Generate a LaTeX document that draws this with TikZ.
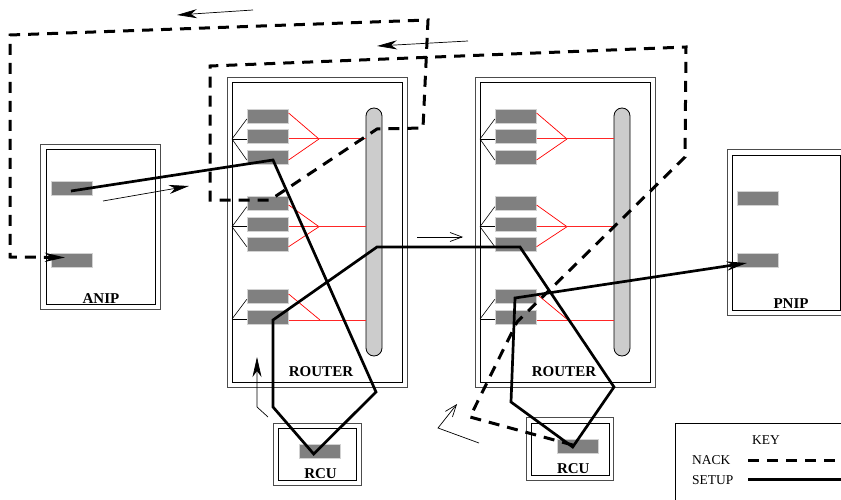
\documentclass[tikz,border=0pt]{standalone}
\usepackage{fontspec}
\setmainfont{Liberation Serif}
\usetikzlibrary{arrows.meta,calc}
\definecolor{portfill}{HTML}{808080}
\definecolor{portedge}{HTML}{D2D2D2}
\definecolor{busfill}{HTML}{CCCCCC}
\tikzset{
  port/.style={rectangle, fill=portfill, draw=portedge, line width=0.8pt,
    minimum width=41pt, minimum height=14pt, inner sep=0pt},
  outerframe/.style={draw=black!70, line width=0.9pt},
  innerframe/.style={draw=black, line width=0.8pt},
  fanline/.style={draw=black, line width=0.6pt},
  redline/.style={draw=red, line width=0.7pt},
  redbus/.style={draw=red!85!white, line width=1pt},
  bus/.style={rectangle, fill=busfill, draw=black, line width=0.8pt,
    rounded corners=8pt, minimum width=16pt, minimum height=248pt, inner sep=0pt},
  setup/.style={draw=black, line width=2.7pt},
  nack/.style={draw=black, line width=3pt, dash pattern=on 11pt off 8pt},
  hint/.style={draw=black, line width=0.7pt},
  darthead/.style={-{Stealth[length=20pt,width=9pt,inset=6pt]}},
  openhead/.style={-{Straight Barb[length=12pt,width=9pt]}},
  boxlabel/.style={font=\bfseries\fontsize{15}{16}\selectfont, inner sep=0pt},
  keytext/.style={font=\fontsize{13.5}{15}\selectfont, inner sep=0pt},
}
\begin{document}
\begin{tikzpicture}[x=1pt,y=-1pt]
\clip (0,0) rectangle (841,500);
\fill[white] (0,0) rectangle (841,500);

% ---------- the two routers ----------
\foreach \s/\n in {0/1,248/2}{
\begin{scope}[xshift=\s pt]
  \draw[outerframe] (227,77) rectangle (407,387);
  \draw[innerframe] (232,82) rectangle (402,382);
  \node[bus] (bus\n) at (374,232) {};
  % hubs of the port groups
  \coordinate (hubA\n) at (232,139);
  \coordinate (hubB\n) at (232,226.7);
  \coordinate (hubC\n) at (232,319);
  \coordinate (jA\n) at (319,139);
  \coordinate (jB\n) at (319,226.7);
  \coordinate (jC\n) at (320,320);
  \coordinate (bA\n) at (366,139);
  \coordinate (bB\n) at (366,226.7);
  \coordinate (bC\n) at (366,320);
  % ports
  \node[port] (pA\n) at (267.7,116) {};
  \node[port] (pB\n) at (267.7,136.7) {};
  \node[port] (pC\n) at (267.7,157) {};
  \node[port] (pD\n) at (267.7,203.7) {};
  \node[port] (pE\n) at (267.7,224) {};
  \node[port] (pF\n) at (267.7,244.7) {};
  \node[port] (pG\n) at (267.7,296.7) {};
  \node[port] (pH\n) at (267.7,317) {};
  % black fan-in on the left
  \draw[fanline] (hubA\n) -- ($(pA\n.west)+(0,3)$);
  \draw[fanline] (hubA\n) -- ($(pB\n.west)+(0,2.3)$);
  \draw[fanline] (hubA\n) -- ($(pC\n.west)+(0,3)$);
  \draw[fanline] (hubB\n) -- ($(pD\n.west)+(0,3)$);
  \draw[fanline] (hubB\n) -- ($(pE\n.west)+(0,2.7)$);
  \draw[fanline] (hubB\n) -- ($(pF\n.west)+(0,2)$);
  \draw[fanline] (hubC\n) -- ($(pG\n.west)+(0,2.6)$);
  \draw[fanline] (hubC\n) -- ($(pH\n.west)+(0,2)$);
  % red links to the bus
  \draw[redline] ($(pA\n.east)+(0,-3)$) -- (jA\n);
  \draw[redline] ($(pC\n.east)+(0,3)$) -- (jA\n);
  \draw[redbus] ($(pB\n.east)+(0,2.3)$) -- (bA\n);
  \draw[redline] ($(pD\n.east)+(0,1.3)$) -- (jB\n);
  \draw[redline] ($(pF\n.east)+(0,2)$) -- (jB\n);
  \draw[redbus] ($(pE\n.east)+(0,2.7)$) -- (bB\n);
  \draw[redline] ($(pG\n.east)+(0,-2.7)$) -- (jC\n);
  \draw[redbus] ($(pH\n.east)+(0,3)$) -- (bC\n);
\end{scope}
}
\node[boxlabel] (rlab1) at (321,372) {ROUTER};
\node[boxlabel] (rlab2) at (564,372) {ROUTER};

% ---------- ANIP ----------
\draw[outerframe] (40,144) rectangle (160,309);
\draw[innerframe] (46,149) rectangle (155,304);
\node[port] (anipA) at (72,188) {};
\node[port] (anipB) at (72,260.5) {};
\node[boxlabel] (aniplab) at (101,299) {ANIP};

% ---------- PNIP ----------
\draw[outerframe] (727,149) rectangle (845.5,315);
\draw[innerframe] (732,155) rectangle (840,310);
\node[port] (pnipA) at (758,198.5) {};
\node[port] (pnipB) at (758,260.5) {};
\node[boxlabel] (pniplab) at (791,304) {PNIP};

% ---------- RCUs ----------
\draw[outerframe] (273,423) rectangle (361,485);
\draw[innerframe] (278,428) rectangle (356,480);
\node[port] (rcuA) at (319.7,451) {};
\node[boxlabel] (rculab1) at (320.5,474) {RCU};

\draw[outerframe] (526,417) rectangle (613,480);
\draw[innerframe] (531,423) rectangle (609,475);
\node[port] (rcuB) at (577.7,446) {};
\node[boxlabel] (rculab2) at (573.3,469) {RCU};

% ---------- key ----------
\draw[line width=0.8pt] (675,423) rectangle (860,520);
\node[keytext] (keyt) at (766,440) {KEY};
\node[keytext, anchor=west] (keyn) at (692,460) {NACK};
\node[keytext, anchor=west] (keys) at (692,480) {SETUP};
\coordinate (keynA) at (748,460);
\coordinate (keynB) at (845,460);
\coordinate (keysA) at (748,479.5);
\coordinate (keysB) at (845,479.5);
\draw[nack] (keynA) -- (keynB);
\draw[setup] (keysA) -- (keysB);

% ---------- NACK route ----------
\draw[nack, darthead] ($(rcuB.center)+(-5,-1)$) -- (470,417) -- (517,322) -- (685,157)
  -- (686,47) -- (210,66) -- (210,200) -- (270,200) -- (377,129) -- (423,128)
  -- (428,20) -- (10,35) -- (10,257) -- ($(anipB.center)+(-7,-3)$);

% ---------- SETUP route ----------
\draw[setup, darthead] ($(anipA.center)+(-1,3)$) -- (273,160) -- (376,392)
  -- ($(rcuA.center)+(-6,3)$) -- (273,407) -- (273,320) -- (377,247) -- (520,247)
  -- (614,387) -- ($(rcuB.center)+(-5,1)$) -- (511,402) -- (515,298)
  -- ($(pnipB.center)+(-11,2.5)$);

% ---------- direction hints ----------
\coordinate (h1a) at (253,10);   \coordinate (h1b) at (177,15);
\coordinate (h2a) at (468,41);   \coordinate (h2b) at (377,46);
\coordinate (h3a) at (103,201);  \coordinate (h3b) at (189,186);
\coordinate (h4a) at (417,237);  \coordinate (h4b) at (463,237);
\coordinate (h5a) at (268,417);  \coordinate (h5b) at (257,357);
\coordinate (h6a) at (479,443);  \coordinate (h6b) at (457,404);
\draw[hint, darthead] (h1a) -- (h1b);
\draw[hint, darthead] (h2a) -- (h2b);
\draw[hint, darthead] (h3a) -- (h3b);
\draw[hint, openhead] (h4a) -- (h4b);
\draw[hint, darthead] (h5a) -- (257,407) -- (h5b);
\draw[hint, openhead] (h6a) -- (438,428) -- (h6b);
\end{tikzpicture}
\end{document}
